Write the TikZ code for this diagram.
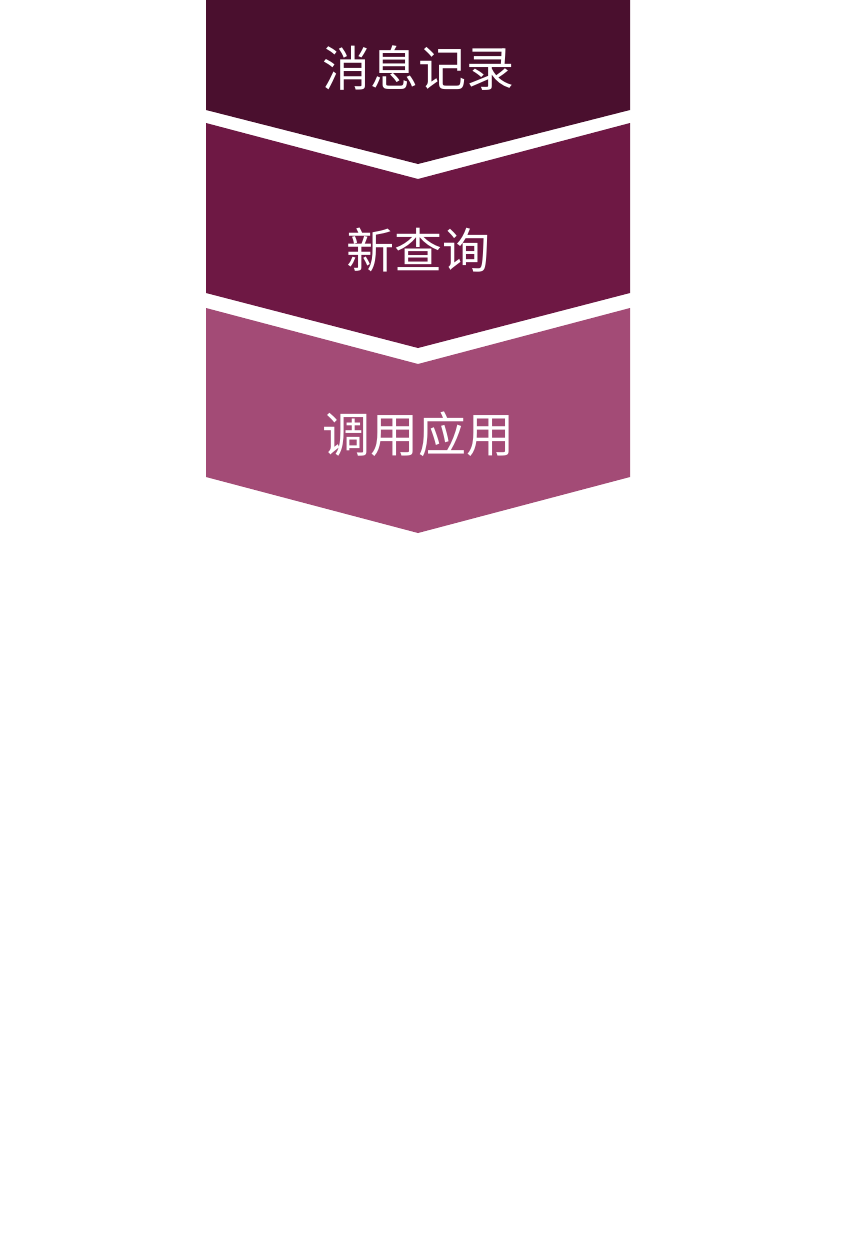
\documentclass[tikz,border=0pt]{standalone}
\usepackage{fontspec}
\newfontfamily\cjk{Noto Sans CJK SC}
\definecolor{c1}{HTML}{4A0F2E}
\definecolor{c2}{HTML}{6E1844}
\definecolor{c3}{HTML}{A34B76}
\begin{document}
\begin{tikzpicture}[x=1pt,y=-1pt,
  lbl/.style={text=white,font=\cjk\fontsize{48}{52}\selectfont,inner sep=0pt}]
\useasboundingbox[fill=white] (0,0) rectangle (864,1234);
\fill[c1] (206,0) -- (630,0) -- (630,110) -- (418,164) -- (206,110) -- cycle;
\fill[c2] (206,123) -- (418,179) -- (630,123) -- (630,293) -- (418,348) -- (206,293) -- cycle;
\fill[c3] (206,308) -- (418,364) -- (630,308) -- (630,477) -- (418,533) -- (206,477) -- cycle;
\node[lbl] (t1) at (418,68) {消息记录};
\node[lbl] (t2) at (418,250) {新查询};
\node[lbl] (t3) at (418,434) {调用应用};
\end{tikzpicture}
\end{document}
